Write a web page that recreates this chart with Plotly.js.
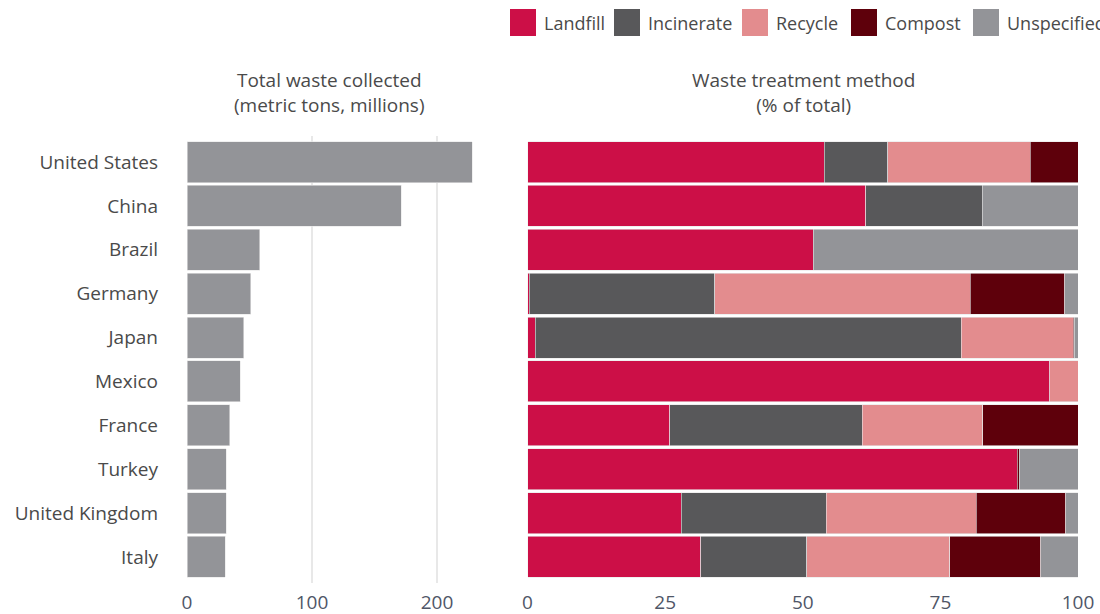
<!DOCTYPE html>
<html>
<head>
<meta charset="utf-8">
<script src="https://cdn.plot.ly/plotly-3.0.1.min.js"></script>
<style>html,body{margin:0;padding:0;background:#fff;}#chart{width:1100px;height:614px;}</style>
</head>
<body>
<div id="chart"></div>
<script>
// ---- data ----
const countries = ['United States','China','Brazil','Germany','Japan','Mexico','France','Turkey','United Kingdom','Italy'];
const totalWaste = [228, 171.5, 58, 51, 45.3, 42.4, 34.1, 31.5, 31.4, 30.4];
const landfill    = [53.9, 61.4, 51.9, 0.3, 1.4, 94.9, 25.8, 89.0, 27.9, 31.5];
const incinerate  = [11.5, 21.2, 0, 33.7, 77.4, 0, 35.0, 0, 26.4, 19.2];
const recycle     = [25.9, 0, 0, 46.4, 20.3, 5.1, 21.9, 0, 27.2, 26.0];
const compost     = [8.7, 0, 0, 17.2, 0.2, 0, 17.3, 0.3, 16.3, 16.5];
const unspecified = [0, 17.4, 48.1, 2.4, 0.7, 0, 0, 10.7, 2.2, 6.8];
const seriesNames = ['Landfill','Incinerate','Recycle','Compost','Unspecified'];
const leftTicks = [0, 100, 200];
const rightTicks = [0, 25, 50, 75, 100];
const leftTitle = 'Total waste collected<br>(metric tons, millions)';
const rightTitle = 'Waste treatment method<br>(% of total)';

// ---- styles ----
const seriesColors = ['#cc0f47','#58585a','#e38c8e','#5e000b','#939498'];
const seriesData = [landfill, incinerate, recycle, compost, unspecified];
const FONT = '"Open Sans", "Noto Sans", sans-serif';
const textColor = '#4a4a4a';
const tickColor = '#4f5667';

const traces = [{
  type: 'bar', orientation: 'h', x: totalWaste, y: countries,
  xaxis: 'x', yaxis: 'y', marker: {color: '#939498', line: {color: '#e6e6e6', width: 0.6}},
  showlegend: false, hoverinfo: 'none'
}];
seriesData.forEach((arr, i) => {
  traces.push({
    type: 'bar', orientation: 'h', name: seriesNames[i],
    x: arr.map(v => v === 0 ? null : v), y: countries,
    xaxis: 'x2', yaxis: 'y2',
    marker: {color: seriesColors[i], line: {color: '#e6e6e6', width: 0.6}},
    showlegend: false, hoverinfo: 'none'
  });
});

const W = 1100, H = 614;
const px = v => v / W;
const py = v => 1 - v / H;

// custom legend (large square swatches)
const legSwatchX = [510, 614, 742, 851, 973];
const shapes = [];
const annotations = [];
seriesNames.forEach((n, i) => {
  shapes.push({type: 'rect', xref: 'paper', yref: 'paper',
    x0: px(legSwatchX[i]), x1: px(legSwatchX[i] + 26), y0: py(36), y1: py(9),
    fillcolor: seriesColors[i], line: {width: 0}});
  annotations.push({xref: 'paper', yref: 'paper', x: px(legSwatchX[i] + 32), y: py(22.5),
    xanchor: 'left', yanchor: 'middle', showarrow: false, text: n,
    font: {family: FONT, size: 18, color: textColor}});
});
annotations.push({xref: 'paper', yref: 'paper', x: px(329), y: py(92), xanchor: 'center', yanchor: 'middle',
  showarrow: false, text: leftTitle, font: {family: FONT, size: 19, color: textColor}});
annotations.push({xref: 'paper', yref: 'paper', x: px(803), y: py(92), xanchor: 'center', yanchor: 'middle',
  showarrow: false, text: rightTitle, font: {family: FONT, size: 19, color: textColor}});

const yDom = [py(583.3), py(135.7)];
const layout = {
  width: W, height: H,
  margin: {l: 0, r: 0, t: 0, b: 0, pad: 0},
  paper_bgcolor: '#ffffff', plot_bgcolor: '#ffffff',
  barmode: 'stack', bargap: 0.065,
  showlegend: false,
  font: {family: FONT, color: textColor},
  xaxis: {domain: [px(187), px(187 + 250 * 1.25)], range: [0, 250], tickvals: leftTicks, anchor: 'y',
    showgrid: true, gridcolor: '#e8e8e8', gridwidth: 2, zeroline: false, showline: false,
    ticks: '', ticklabelstandoff: 6, automargin: false,
    tickfont: {family: FONT, size: 19, color: tickColor}, fixedrange: true},
  yaxis: {domain: yDom, type: 'category', range: [9.6, -0.6], anchor: 'x', showgrid: false, zeroline: false,
    ticks: '', ticklabelstandoff: 28, automargin: false,
    tickfont: {family: FONT, size: 19, color: textColor}, fixedrange: true},
  xaxis2: {domain: [px(527.5), px(1078)], range: [0, 100], tickvals: rightTicks, anchor: 'y2',
    showgrid: false, zeroline: false, showline: false, ticks: '', ticklabelstandoff: 6, automargin: false,
    tickfont: {family: FONT, size: 19, color: tickColor}, fixedrange: true},
  yaxis2: {domain: yDom, type: 'category', range: [9.6, -0.6], anchor: 'x2', showgrid: false, zeroline: false,
    showticklabels: false, ticks: '', automargin: false, fixedrange: true},
  shapes: shapes,
  annotations: annotations
};

Plotly.newPlot('chart', traces, layout, {staticPlot: true, displayModeBar: false});
</script>
</body>
</html>
